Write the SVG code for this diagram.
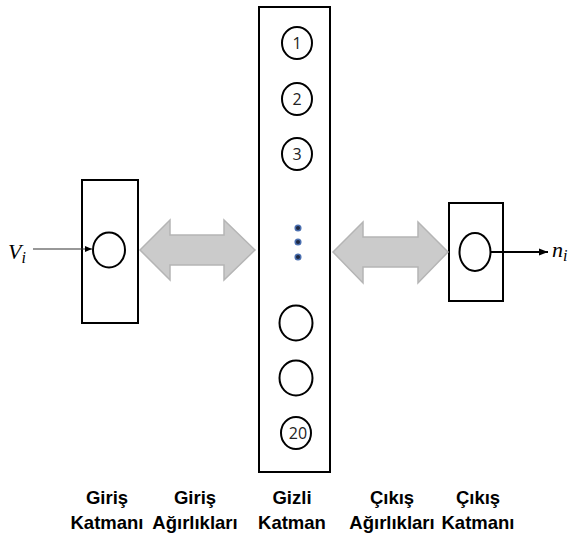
<svg xmlns="http://www.w3.org/2000/svg" width="576" height="535" viewBox="0 0 576 535">
<style>
.box{fill:#fff;stroke:#000;stroke-width:2}
.node{fill:#fff;stroke:#000;stroke-width:2}
.num{font-family:"Open Sans","Liberation Sans",Arial,sans-serif;font-size:16px;fill:#222;text-anchor:middle}
.dbl{fill:#cbcbcb;stroke:#b5b5b5;stroke-width:1.5}
.lbl{font-family:"Liberation Sans",Arial,sans-serif;font-weight:bold;font-size:18.5px;fill:#000;text-anchor:middle}
.math{font-family:"Liberation Serif","Times New Roman",serif;font-style:italic;fill:#000}
.dot{fill:#1f2a44;stroke:#4a6fb0;stroke-width:1.5}
</style>
<defs>
<marker id="ah" markerWidth="8" markerHeight="8" refX="7" refY="4" orient="auto" markerUnits="userSpaceOnUse">
<path d="M0,1 L7,4 L0,7 Z" fill="#000"/>
</marker>
<marker id="ah2" markerWidth="10" markerHeight="10" refX="9" refY="5" orient="auto" markerUnits="userSpaceOnUse">
<path d="M0,1.5 L9,5 L0,8.5 Z" fill="#000"/>
</marker>
</defs>

<g id="input-layer">
<rect class="box" x="82" y="180" width="56" height="143"/>
<ellipse class="node" cx="109" cy="250" rx="16" ry="17.5"/>
</g>

<g id="hidden-layer">
<rect class="box" x="259" y="7" width="71" height="465"/>
<ellipse class="node" cx="297" cy="43" rx="15" ry="16"/>
<text class="num" x="297" y="49">1</text>
<ellipse class="node" cx="297" cy="99" rx="15" ry="16"/>
<text class="num" x="297" y="105">2</text>
<ellipse class="node" cx="297" cy="154" rx="15" ry="16"/>
<text class="num" x="297" y="160">3</text>
<circle class="dot" cx="298" cy="228" r="2.8"/>
<circle class="dot" cx="298" cy="242" r="2.8"/>
<circle class="dot" cx="298" cy="257" r="2.8"/>
<ellipse class="node" cx="296" cy="323" rx="16.5" ry="17.5"/>
<ellipse class="node" cx="296" cy="378" rx="16.5" ry="17.5"/>
<ellipse class="node" cx="296" cy="433" rx="15" ry="16"/>
<text class="num" x="298" y="439">20</text>
</g>

<g id="output-layer">
<rect class="box" x="449" y="203" width="54" height="98"/>
<ellipse class="node" cx="475" cy="252" rx="15.5" ry="19"/>
</g>

<g id="input-weights">
<path class="dbl" d="M140,250 L170,220 L170,235 L224,235 L224,220 L255,250 L224,280 L224,265 L170,265 L170,280 Z"/>
</g>

<g id="output-weights">
<path class="dbl" d="M333,252 L363,222 L363,237 L418,237 L418,222 L448,252 L418,283 L418,267 L363,267 L363,283 Z"/>
</g>

<g id="connectors">
<line x1="33" y1="249" x2="92" y2="249" stroke="#333" stroke-width="1.2" marker-end="url(#ah)"/>
<line x1="491" y1="252" x2="548" y2="252" stroke="#000" stroke-width="2" marker-end="url(#ah2)"/>
</g>

<g id="math-labels">
<text class="math" x="8" y="259" font-size="22">V<tspan font-size="16" dy="4">i</tspan></text>
<text class="math" x="552" y="257" font-size="22">n<tspan font-size="16" dy="4">i</tspan></text>
</g>

<g id="labels">
<text class="lbl" x="107" y="504">Giriş</text>
<text class="lbl" x="107" y="529">Katmanı</text>
<text class="lbl" x="195" y="504">Giriş</text>
<text class="lbl" x="195" y="529">Ağırlıkları</text>
<text class="lbl" x="292" y="504">Gizli</text>
<text class="lbl" x="292" y="529">Katman</text>
<text class="lbl" x="392" y="504">Çıkış</text>
<text class="lbl" x="392" y="529">Ağırlıkları</text>
<text class="lbl" x="478" y="504">Çıkış</text>
<text class="lbl" x="478" y="529">Katmanı</text>
</g>
</svg>
